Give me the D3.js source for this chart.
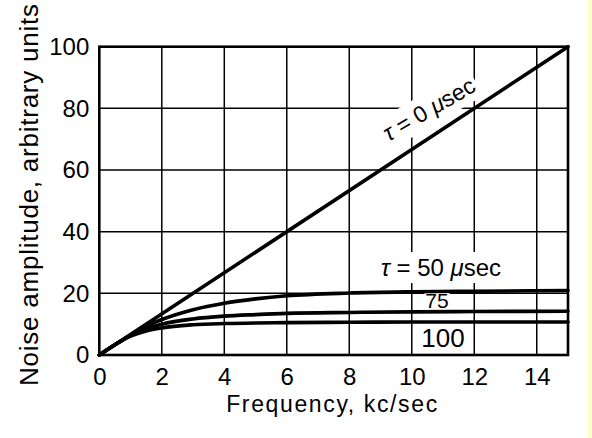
<!DOCTYPE html>
<html>
<head>
	<meta http-equiv="Content-Type" content="text/html;charset=utf-8">
	<title>Noise amplitude</title>
	<script type="text/javascript" src="https://d3js.org/d3.v7.min.js"></script>
	<style type="text/css">
		body { margin: 0; background: white; }
		svg { display: block; }
		text { font-family: "Liberation Sans", Arial, sans-serif; fill: black; }
		.grid line { stroke: black; stroke-width: 1.5; }
		.curve { fill: none; stroke: black; stroke-width: 3.6; stroke-linecap: round; }
	</style>
</head>
<body>
<div id="chart"></div>
<script type="text/javascript">
	// data
	var freq = [0, 0.5, 1, 1.5, 2, 3, 4, 5, 6, 8, 10, 12, 15];
	var tau50 = [0, 3.3, 6.5, 9.3, 11.5, 14.7, 16.8, 18.2, 19.2, 20.1, 20.5, 20.7, 20.9];
	var tau75 = [0, 3.3, 6.3, 8.5, 10.0, 11.7, 12.6, 13.1, 13.5, 13.8, 14.0, 14.1, 14.2];
	var tau100 = [0, 3.3, 6.1, 7.8, 8.8, 9.8, 10.2, 10.4, 10.5, 10.6, 10.7, 10.7, 10.7];
	var freqLine = [0, 15];
	var tau0 = [0, 100];
	var xTicks = [0, 2, 4, 6, 8, 10, 12, 14];
	var yTicks = [0, 20, 40, 60, 80, 100];

	var W = 592, H = 438;
	var m = {top: 46.7, right: 24, bottom: 83, left: 99.3};

	var svg = d3.select("#chart").append("svg")
		.attr("width", W)
		.attr("height", H);

	// pale strip at the right edge of the scan
	svg.append("rect")
		.attr("x", 588).attr("y", 0)
		.attr("width", W - 588).attr("height", H)
		.attr("fill", "#ffffcc");

	var x = d3.scaleLinear().domain([0, 15]).range([m.left, W - m.right]);
	var y = d3.scaleLinear().domain([0, 100]).range([H - m.bottom, m.top]);

	// grid
	var grid = svg.append("g").attr("class", "grid");
	grid.selectAll("line.v")
		.data(xTicks.filter(function(d) { return d > 0; }))
		.enter().append("line")
		.attr("class", "v")
		.attr("x1", function(d) { return x(d); })
		.attr("x2", function(d) { return x(d); })
		.attr("y1", y(0)).attr("y2", y(100));
	grid.selectAll("line.h")
		.data(yTicks.filter(function(d) { return d > 0 && d < 100; }))
		.enter().append("line")
		.attr("class", "h")
		.attr("x1", x(0)).attr("x2", x(15))
		.attr("y1", function(d) { return y(d); })
		.attr("y2", function(d) { return y(d); });

	// axes (labels only, frame drawn below)
	var xAxis = d3.axisBottom(x).tickValues(xTicks).tickSize(0).tickPadding(13);
	var gx = svg.append("g")
		.attr("transform", "translate(0," + y(0) + ")")
		.call(xAxis);
	var yAxis = d3.axisLeft(y).tickValues(yTicks).tickSize(0).tickPadding(10);
	var gy = svg.append("g")
		.attr("transform", "translate(" + x(0) + ",0)")
		.call(yAxis);
	[gx, gy].forEach(function(g) {
		g.select(".domain").remove();
		g.selectAll(".tick text")
			.attr("font-family", null)
			.style("font-size", "24px");
	});

	// labels on the curves, with white boxes hiding the grid
	function boxedText(parent, str, fs, opts) {
		var g = parent.append("g").attr("transform", opts.transform);
		var bg = g.append("rect").attr("fill", "white");
		var t = g.append("text")
			.attr("text-anchor", opts.anchor || "start")
			.style("font-size", fs + "px");
		str.forEach(function(part) {
			t.append("tspan")
				.style("font-style", part.italic ? "italic" : null)
				.text(part.s);
		});
		var b = t.node().getBBox();
		var p = opts.pad || 2;
		bg.attr("x", b.x - p).attr("y", b.y - p + (opts.padTop || 0))
			.attr("width", b.width + 2 * p).attr("height", b.height + 2 * p - (opts.padTop || 0));
		return g;
	}

	var labels = svg.append("g");

	// tau = 0 along the straight line
	var ang = -Math.atan((y(0) - y(100)) / (x(15) - x(0))) * 180 / Math.PI + 3;
	boxedText(labels, [{s: "\u03c4", italic: true}, {s: " = 0 "}, {s: "\u03bc", italic: true}, {s: "sec"}], 23,
		{transform: "translate(" + 433 + "," + 116 + ") rotate(" + ang + ")", anchor: "middle", pad: 3});

	boxedText(labels, [{s: "\u03c4", italic: true}, {s: " = 50 "}, {s: "\u03bc", italic: true}, {s: "sec"}], 24,
		{transform: "translate(441,276)", anchor: "middle", pad: 2});
	boxedText(labels, [{s: "75"}], 21,
		{transform: "translate(437,308)", anchor: "middle", pad: 1, padTop: 4});
	boxedText(labels, [{s: "100"}], 26,
		{transform: "translate(443,347)", anchor: "middle", pad: 2, padTop: 3});

	// curves
	var line = d3.line()
		.x(function(d) { return x(d[0]); })
		.y(function(d) { return y(d[1]); })
		.curve(d3.curveMonotoneX);

	var series = [
		d3.zip(freqLine, tau0),
		d3.zip(freq, tau50),
		d3.zip(freq, tau75),
		d3.zip(freq, tau100)
	];
	svg.append("g").selectAll("path")
		.data(series)
		.enter().append("path")
		.attr("class", "curve")
		.attr("d", line);

	// frame
	svg.append("rect")
		.attr("x", x(0)).attr("y", y(100))
		.attr("width", x(15) - x(0)).attr("height", y(0) - y(100))
		.attr("fill", "none")
		.attr("stroke", "black")
		.attr("stroke-width", 2.6);

	// axis titles
	svg.append("text")
		.attr("x", (x(0) + x(15)) / 2 - 2)
		.attr("y", 412)
		.attr("text-anchor", "middle")
		.attr("textLength", 211)
		.attr("lengthAdjust", "spacing")
		.style("font-size", "23px")
		.text("Frequency, kc/sec");

	svg.append("text")
		.attr("transform", "translate(38,195) rotate(-90)")
		.attr("text-anchor", "middle")
		.attr("textLength", 382)
		.attr("lengthAdjust", "spacing")
		.style("font-size", "26px")
		.text("Noise amplitude, arbitrary units");
</script>
</body>
</html>
